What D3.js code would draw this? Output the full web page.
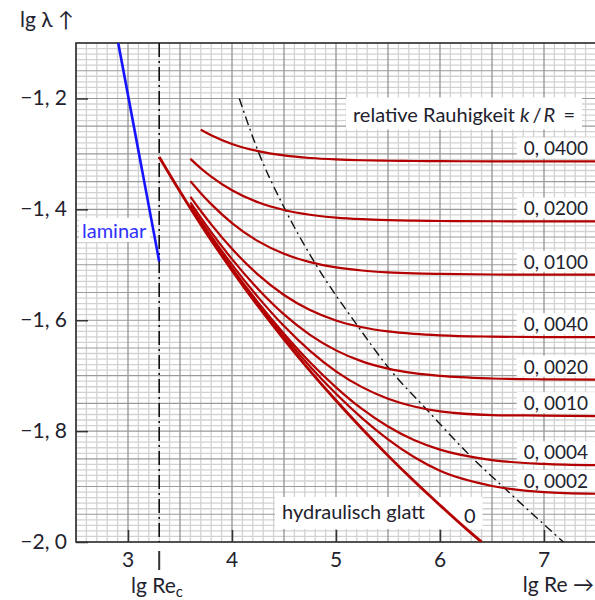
<!DOCTYPE html>
<html><head><meta charset="utf-8">
<script src="https://cdn.jsdelivr.net/npm/d3@7"></script>
<style>
body{margin:0;background:#fff}
svg{display:block}
text{font-family:Lato,"Open Sans",sans-serif;fill:#22222e}
</style>
</head><body>
<svg id="c" width="595" height="600"></svg>
<script>
// ---------- data ----------
const lgReGrid = [3.6, 3.7, 3.8, 4.0, 4.25, 4.5, 4.75, 5.0, 5.25, 5.5, 5.75, 6.0, 6.5, 7.0, 7.5];
const rough0400 = [null, -1.2563, -1.2664, -1.2821, -1.2950, -1.3028, -1.3074, -1.3100, -1.3115, -1.3124, -1.3128, -1.3131, -1.3134, -1.3135, -1.3135];
const rough0200 = [-1.3089, -1.3260, -1.3409, -1.3655, -1.3873, -1.4012, -1.4098, -1.4149, -1.4178, -1.4195, -1.4205, -1.4210, -1.4215, -1.4217, -1.4217];
const rough0100 = [-1.3492, -1.3708, -1.3906, -1.4247, -1.4574, -1.4803, -1.4953, -1.5047, -1.5103, -1.5136, -1.5155, -1.5165, -1.5175, -1.5178, -1.5179];
const rough0040 = [-1.3774, -1.4030, -1.4272, -1.4713, -1.5178, -1.5545, -1.5817, -1.6005, -1.6126, -1.6202, -1.6246, -1.6273, -1.6296, -1.6304, -1.6306];
const rough0020 = [-1.3877, -1.4149, -1.4411, -1.4898, -1.5437, -1.5895, -1.6264, -1.6544, -1.6742, -1.6873, -1.6955, -1.7005, -1.7051, -1.7066, -1.7071];
const rough0010 = [-1.3929, -1.4213, -1.4483, -1.4998, -1.5583, -1.6105, -1.6552, -1.6921, -1.7207, -1.7415, -1.7556, -1.7645, -1.7710, -1.7720, -1.7730];
const rough0004 = [-1.3962, -1.4250, -1.4527, -1.5060, -1.5678, -1.6243, -1.6758, -1.7210, -1.7601, -1.7917, -1.8160, -1.8334, -1.8522, -1.8591, -1.8615];
const rough0002 = [-1.3971, -1.4262, -1.4542, -1.5080, -1.5711, -1.6292, -1.6834, -1.7326, -1.7765, -1.8148, -1.8468, -1.8717, -1.8990, -1.9100, -1.9130];
const roughSeries = [rough0400, rough0200, rough0100, rough0040, rough0020, rough0010, rough0004, rough0002];
const roughLabels = ["0, 0400", "0, 0200", "0, 0100", "0, 0040", "0, 0020", "0, 0010", "0, 0004", "0, 0002"];

const lgReSmooth = [3.3, 3.5, 3.75, 4.0, 4.25, 4.5, 4.75, 5.0, 5.25, 5.5, 5.75, 6.0, 6.25, 6.4];
const lamSmooth  = [-1.3056, -1.3680, -1.4417, -1.5100, -1.5743, -1.6344, -1.6912, -1.7448, -1.7957, -1.8442, -1.8900, -1.9336, -1.9759, -2.0];

const lgReLaminar = [2.906, 3.3];
const lamLaminar  = [-1.100, -1.494];

const lgReCrit = 3.3;

const lgReBoundary = [4.07, 4.253, 4.51, 4.798, 5.215, 5.519, 5.856, 6.288, 6.632, 7.186];
const lamBoundary  = [-1.20, -1.296, -1.400, -1.497, -1.612, -1.689, -1.758, -1.844, -1.905, -2.0];

const xTicks = [3, 4, 5, 6, 7];
const xTickLabels = ["3", "4", "5", "6", "7"];
const yTicks = [-2.0, -1.8, -1.6, -1.4, -1.2];
const yTickLabels = ["\u22122, 0", "\u22121, 8", "\u22121, 6", "\u22121, 4", "\u22121, 2"];

// ---------- chart ----------
const svg = d3.select("#c");
const x = d3.scaleLinear().domain([2.5, 7.5]).range([76, 596]);
const y = d3.scaleLinear().domain([-2.0, -1.1]).range([542, 43]);
const [X0, X1] = x.range(), [Y0, Y1] = y.range();

svg.append("defs").append("clipPath").attr("id", "plot")
  .append("rect").attr("x", X0).attr("y", Y1).attr("width", X1 - X0).attr("height", Y0 - Y1);

// grid
const grid = svg.append("g");
const vx = d3.range(25, 76).map(i => i / 10);
const hy = d3.range(-200, -109).map(i => i / 100);
grid.selectAll(".vmin").data(vx.filter((d, i) => i % 5 !== 0)).join("line")
  .attr("x1", d => x(d)).attr("x2", d => x(d)).attr("y1", Y1).attr("y2", Y0)
  .attr("stroke", "#d2d2d2").attr("stroke-width", 1.3);
grid.selectAll(".hmin").data(hy.filter((d, i) => i % 5 !== 0)).join("line")
  .attr("y1", d => y(d)).attr("y2", d => y(d)).attr("x1", X0).attr("x2", X1)
  .attr("stroke", "#d2d2d2").attr("stroke-width", 1.3);
grid.selectAll(".vmaj").data(vx.filter((d, i) => i % 5 === 0)).join("line")
  .attr("x1", d => x(d)).attr("x2", d => x(d)).attr("y1", Y1).attr("y2", Y0)
  .attr("stroke", "#8a8a8a").attr("stroke-width", 1.2);
grid.selectAll(".hmaj").data(hy.filter((d, i) => i % 5 === 0)).join("line")
  .attr("y1", d => y(d)).attr("y2", d => y(d)).attr("x1", X0).attr("x2", X1)
  .attr("stroke", "#9a9a9a").attr("stroke-width", 1.1);

// frame
svg.append("rect").attr("x", X0).attr("y", Y1).attr("width", X1 - X0).attr("height", Y0 - Y1)
  .attr("fill", "none").attr("stroke", "#333").attr("stroke-width", 1.6);

const boxes = svg.append("g");
const curves = svg.append("g").attr("clip-path", "url(#plot)");
const texts = svg.append("g");

// ticks (inward)
const axisX = d3.axisBottom(x).tickValues(xTicks).tickSize(-12).tickFormat("");
svg.append("g").attr("transform", `translate(0,${Y0})`).call(axisX)
  .call(g => g.select(".domain").remove())
  .call(g => g.selectAll("line").attr("stroke", "#333").attr("stroke-width", 1.5));
const axisY = d3.axisLeft(y).tickValues(yTicks).tickSize(-12).tickFormat("");
svg.append("g").attr("transform", `translate(${X0},0)`).call(axisY)
  .call(g => g.select(".domain").remove())
  .call(g => g.selectAll("line").attr("stroke", "#333").attr("stroke-width", 1.5));

// tick labels
texts.selectAll(".xl").data(xTicks).join("text")
  .attr("x", d => x(d)).attr("y", 567).attr("text-anchor", "middle")
  .attr("font-size", 21).text((d, i) => xTickLabels[i]);
texts.selectAll(".yl").data(yTicks).join("text")
  .attr("x", 67).attr("y", d => y(d) + 7).attr("text-anchor", "end")
  .attr("font-size", 21).text((d, i) => yTickLabels[i]);

// axis titles
texts.append("text").attr("x", 20).attr("y", 27).attr("font-size", 21).text("lg \u03bb \u2191");
texts.append("text").attr("x", 594).attr("y", 592).attr("text-anchor", "end")
  .attr("font-size", 21).text("lg Re \u2192");
const tc = texts.append("text").attr("x", 131).attr("y", 593).attr("font-size", 21);
tc.append("tspan").text("lg Re");
tc.append("tspan").attr("font-size", 15).attr("dy", 4).text("c");
svg.append("line").attr("x1", x(lgReCrit)).attr("x2", x(lgReCrit)).attr("y1", 551).attr("y2", 570)
  .attr("stroke", "#333").attr("stroke-width", 2);

// critical Re line
curves.append("line").attr("x1", x(lgReCrit)).attr("x2", x(lgReCrit)).attr("y1", Y1).attr("y2", Y0)
  .attr("stroke", "#111").attr("stroke-width", 1.6).attr("stroke-dasharray", "14,4,2,4");

// boundary dash-dot
const line = d3.line().defined(d => d[1] != null).x(d => x(d[0])).y(d => y(d[1])).curve(d3.curveMonotoneX);
curves.append("path").attr("d", line(lgReBoundary.map((v, i) => [v, lamBoundary[i]])))
  .attr("fill", "none").attr("stroke", "#111").attr("stroke-width", 1.4).attr("stroke-dasharray", "9,4,2,4");

// laminar
curves.append("path").attr("d", line(lgReLaminar.map((v, i) => [v, lamLaminar[i]])))
  .attr("fill", "none").attr("stroke", "#1414ff").attr("stroke-width", 2.6);

// rough curves
roughSeries.forEach((s, k) => {
  curves.append("path").attr("d", line(lgReGrid.map((v, i) => [v, s[i]])))
    .attr("fill", "none").attr("stroke", "#b40000").attr("stroke-width", 2.2);
});
// smooth
curves.append("path").attr("d", line(lgReSmooth.map((v, i) => [v, lamSmooth[i]])))
  .attr("fill", "none").attr("stroke", "#b40000").attr("stroke-width", 2.8);

// labels with white backing
function backed(nodes, padX, padY) {
  const bb = nodes.map(n => n.getBBox());
  const x0 = d3.min(bb, b => b.x) - padX, x1 = d3.max(bb, b => b.x + b.width) + padX;
  const y0 = d3.min(bb, b => b.y) - padY, y1 = d3.max(bb, b => b.y + b.height) + padY;
  boxes.append("rect").attr("x", x0).attr("y", y0).attr("width", x1 - x0).attr("height", y1 - y0).attr("fill", "#fff");
}
const rel = texts.append("text").attr("x", 353).attr("y", 121.5).attr("font-size", 20);
rel.append("tspan").text("relative Rauhigkeit ");
rel.append("tspan").attr("font-style", "italic").text("k");
rel.append("tspan").attr("dx", 3).text("/");
rel.append("tspan").attr("dx", 2).attr("font-style", "italic").text("R");
rel.append("tspan").attr("dx", 3).text(" =");
backed([rel.node()], 7, 4);

roughSeries.forEach((s, k) => {
  const last = s[s.length - 1];
  const t = texts.append("text").attr("x", 588).attr("y", y(last) - 6)
    .attr("text-anchor", "end").attr("font-size", 19).text(roughLabels[k]);
  backed([t.node()], 7, -1);
});

const lam = texts.append("text").attr("x", 82).attr("y", 238).attr("font-size", 20)
  .style("fill", "#3030ff").text("laminar");
backed([lam.node()], 3, 0);

const hg = texts.append("text").attr("x", 282).attr("y", 519).attr("font-size", 20).text("hydraulisch glatt");
const h0 = texts.append("text").attr("x", 464).attr("y", 523).attr("font-size", 20).text("0");
backed([hg.node(), h0.node()], 7, 2);
</script>
</body></html>
